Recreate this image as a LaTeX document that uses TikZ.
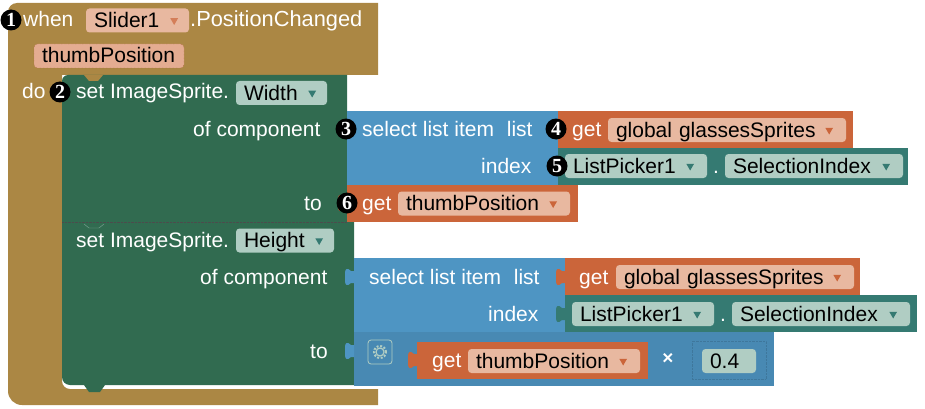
\documentclass[tikz,border=0pt]{standalone}
\usepackage{fontspec}
\setmainfont{Liberation Sans}
\newfontfamily\badgefont{Liberation Serif}
\usetikzlibrary{positioning, shapes.geometric}
\definecolor{evtbrown}{HTML}{AB8744}
\definecolor{setgreen}{HTML}{316B50}
\definecolor{listblue}{HTML}{4E95C3}
\definecolor{getorange}{HTML}{CB653A}
\definecolor{proptea}{HTML}{357A72}
\definecolor{fldgreen}{HTML}{B0CDC3}
\definecolor{fldorange}{HTML}{E8B8A0}

\begin{document}
\begin{tikzpicture}[x=1pt, y=-1pt,
    blockbox/.style={anchor=north west, inner sep=0pt, outer sep=0pt},
    wh/.style 2 args={minimum width=#1, minimum height=#2},
    lbl/.style={anchor=west, inner sep=0pt, text height=14pt, text depth=0pt, text=white,
        font=\fontsize{21}{24}\selectfont},
    fieldbox/.style={anchor=west, rounded corners=3.5pt, inner xsep=8pt, inner ysep=5pt, outer sep=0pt,
        text height=14pt, text depth=0pt, text=black, align=left,
        text width=#1, font=\fontsize{21}{24}\selectfont},
    drop/.style={regular polygon, regular polygon sides=3, shape border rotate=180,
        inner sep=0pt, minimum size=9pt},
    badge/.style={circle, fill=black, inner sep=0pt, minimum size=21pt, text=white,
        font=\badgefont\bfseries\fontsize{20}{22}\selectfont}
]
    \useasboundingbox (0,0) rectangle (925,409);

    % event block
    \fill[evtbrown] (40,3) -- (378,3) -- (378,75) -- (62,75)
        [rounded corners=8pt] -- (62,389) [sharp corners] -- (378,389) -- (378,405)
        [rounded corners=14pt] -- (8,405) [rounded corners=9pt] -- (8,3) -- cycle;

    % statements
    \fill[setgreen, rounded corners=6pt] (62,222) -- (62,75) [sharp corners] -- (347,75) -- (347,222) -- cycle;
    \fill[setgreen, rounded corners=8pt] (62,222) -- (62,385) [sharp corners] -- (354,385) -- (354,222) -- cycle;
    \fill[evtbrown] (84,75) -- (103,75) -- (98,81) -- (89,81) -- cycle;
    \fill[setgreen] (84,385) -- (105,385) -- (100,392) -- (89,392) -- cycle;
    \draw[black!70, densely dotted] (62,222) -- (347,222);
    \draw[fldgreen!60!setgreen] (84,224) -- (89,228) -- (99,228) -- (104,224);

    % value blocks
    \node[blockbox, fill=listblue, wh={211pt}{74pt}] (listA) at (347,111) {};
    \node[blockbox, fill=getorange, wh={295pt}{37pt}] (getA) at (558,111) {};
    \node[blockbox, fill=proptea, wh={350pt}{37pt}] (propA) at (558,148) {};
    \node[blockbox, fill=getorange, wh={231pt}{37pt}] (getC) at (347,185) {};

    \node[blockbox, fill=listblue, wh={211pt}{74pt}] (listB) at (354,258) {};
    \node[blockbox, fill=getorange, wh={295pt}{37pt}] (getB) at (565,258) {};
    \node[blockbox, fill=proptea, wh={352pt}{37pt}] (propB) at (565,295) {};
    \node[blockbox, fill=listblue!92!black, wh={420pt}{54pt}] (mult) at (354,332) {};
    \node[blockbox, fill=getorange, wh={231pt}{37pt}] (getD) at (417,342) {};
    \node[blockbox, draw=listblue!80!black, densely dotted, wh={74pt}{38pt}] (numbox) at (692,341) {};

    % puzzle tabs
    \foreach \tx/\ty/\tcol in {347/129/listblue, 558/129/getorange, 558/166/proptea, 347/203/getorange,
        354/277/listblue, 565/277/getorange, 565/314/proptea, 354/351/listblue, 417/360/getorange}
        \fill[\tcol] (\tx,\ty-6) -- (\tx-3,\ty-6) .. controls (\tx-7,\ty-10) and (\tx-9,\ty-8) .. (\tx-9,\ty-4)
            -- (\tx-9,\ty+4) .. controls (\tx-9,\ty+8) and (\tx-7,\ty+10) .. (\tx-3,\ty+6) -- (\tx,\ty+6) -- cycle;

    % first rows
    \node[lbl] (when) at (23,20) {when};
    \node[fieldbox=87pt, fill=fldorange] (slider) at (86,20.5) {Slider1};
    \node[drop, fill=getorange!70!fldorange, left=12pt of slider.east] (dropS) {};
    \node[lbl, font=\fontsize{21.8}{24}\selectfont] (changed) at (190,20) {.PositionChanged};
    \node[fieldbox=134pt, fill=fldorange!85!getorange, draw=getorange!80!black, densely dotted] (param) at (34,56) {thumbPosition};

    \node[lbl] (doword) at (22,92) {do};
    \node[lbl] (setW) at (76,92) {set ImageSprite.};
    \node[fieldbox=75pt, fill=fldgreen] (width) at (236,93) {Width};
    \node[drop, fill=proptea, left=12pt of width.east] (dropW) {};
    \node[lbl] (compA) at (193,129) {of component};
    \node[lbl] (itemA) at (362,129) {select list item\hspace{7pt} list};
    \node[lbl] (getwA) at (572,129) {get};
    \node[fieldbox=222pt, fill=fldorange] (globA) at (608,130) {global glassesSprites};
    \node[drop, fill=getorange, left=14pt of globA.east] (dropGA) {};
    \node[lbl] (indexA) at (481,166) {index};
    \node[fieldbox=126pt, fill=fldgreen] (pickA) at (565,166) {ListPicker1};
    \node[drop, fill=proptea, left=14pt of pickA.east] (dropPA) {};
    \node[lbl] (dotA) at (713,166) {.};
    \node[fieldbox=162pt, fill=fldgreen] (selA) at (725,166) {SelectionIndex};
    \node[drop, fill=proptea, left=14pt of selA.east] (dropSA) {};
    \node[lbl] (toA) at (304,203) {to};
    \node[lbl] (getwC) at (362,203) {get};
    \node[fieldbox=156pt, fill=fldorange] (thumbC) at (398,203.5) {thumbPosition};
    \node[drop, fill=getorange, left=14pt of thumbC.east] (dropTC) {};

    % second statement
    \node[lbl] (setH) at (76,240) {set ImageSprite.};
    \node[fieldbox=82pt, fill=fldgreen] (height) at (236,240.5) {Height};
    \node[drop, fill=proptea, left=12pt of height.east] (dropH) {};
    \node[lbl] (compB) at (200,277) {of component};
    \node[lbl] (itemB) at (369,277) {select list item\hspace{7pt} list};
    \node[lbl] (getwB) at (579,277) {get};
    \node[fieldbox=222pt, fill=fldorange] (globB) at (616,277) {global glassesSprites};
    \node[drop, fill=getorange, left=14pt of globB.east] (dropGB) {};
    \node[lbl] (indexB) at (488,314) {index};
    \node[fieldbox=126pt, fill=fldgreen] (pickB) at (572,314) {ListPicker1};
    \node[drop, fill=proptea, left=14pt of pickB.east] (dropPB) {};
    \node[lbl] (dotB) at (720,314) {.};
    \node[fieldbox=162pt, fill=fldgreen] (selB) at (732,314) {SelectionIndex};
    \node[drop, fill=proptea, left=14pt of selB.east] (dropSB) {};
    \node[lbl] (toB) at (310,351) {to};

    % mutator icon
    \node[draw=fldgreen, line width=0.8pt, rounded corners=3pt, minimum size=24pt, inner sep=0pt] (gearbox) at (380,352) {};
    \node[circle, draw=fldgreen, line width=1.2pt, minimum size=8pt, inner sep=0pt] (gear) at (gearbox.center) {};
    \node[circle, draw=fldgreen, line width=2pt, dash pattern=on 2pt off 1.6pt, minimum size=12pt, inner sep=0pt] (gearteeth) at (gearbox.center) {};
    \node[lbl] (getwD) at (432,360) {get};
    \node[fieldbox=156pt, fill=fldorange] (thumbD) at (468,361) {thumbPosition};
    \node[drop, fill=getorange, left=14pt of thumbD.east] (dropTD) {};
    \node[lbl, anchor=center, font=\bfseries\fontsize{19}{20}\selectfont] (times) at (668,357) {×};
    \node[fieldbox=38pt, fill=fldgreen] (num) at (702,361) {0.4};

    % callouts
    \foreach \bx/\by/\bnum in {11/20/1, 60/92/2, 346/129/3, 556/129/4, 557/166/5, 347/203/6}
        \node[badge] (badge\bnum) at (\bx,\by) {\bnum};
\end{tikzpicture}
\end{document}
